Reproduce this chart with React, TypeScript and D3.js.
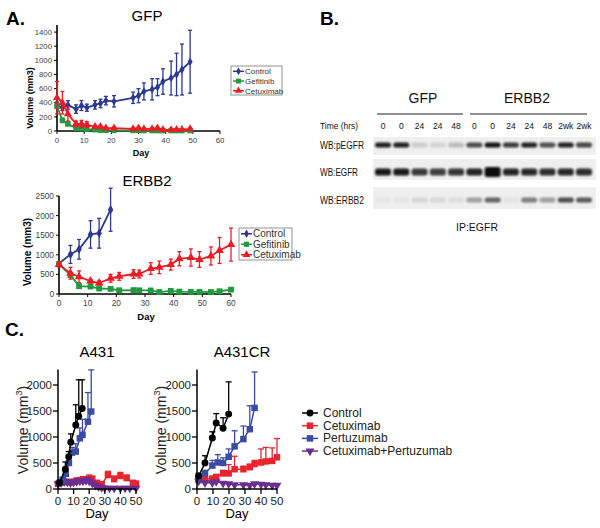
import React from 'react';
import * as d3 from 'd3';

const FONT = 'Liberation Sans, Arial, Helvetica, sans-serif';

// ---------- Panel A: GFP ----------
const gfpDays = [0, 2, 4, 7, 9, 11, 14, 16, 18, 21, 28, 30, 32, 35, 37, 39, 42, 44, 46, 49];
const gfpControl = [370, 330, 370, 310, 360, 330, 370, 390, 430, 420, 470, 500, 560, 590, 620, 700, 750, 800, 870, 980];
const gfpControlErr = [40, 40, 60, 60, 70, 50, 60, 60, 60, 80, 80, 100, 120, 150, 120, 180, 240, 300, 360, 445];
const gfpGefitinib = [350, 150, 100, 40, 35, 25, 18, 12, 10, 10, 8, 8, 6, 6, 6, 5, 5, 5, 5, 5];
const gfpGefitinibErr = [30, 30, 20, 15, 10, 10, 8, 6, 5, 5, 5, 5, 4, 4, 4, 4, 4, 4, 4, 4];
const gfpCetuximab = [470, 400, 240, 100, 100, 90, 60, 60, 40, 40, 30, 40, 30, 30, 40, 20, 15, 20, 20, 30];
const gfpCetuximabErr = [230, 160, 100, 40, 50, 40, 20, 20, 15, 15, 15, 15, 10, 15, 15, 10, 10, 10, 10, 15];
const gfpYTicks = [0, 200, 400, 600, 800, 1000, 1200, 1400];
const aXTicks = [0, 10, 20, 30, 40, 50, 60];

// ---------- Panel A: ERBB2 ----------
const erbbControlDays = [0, 4, 7, 11, 14, 18];
const erbbControl = [780, 1010, 1140, 1520, 1550, 2150];
const erbbControlErr = [0, 230, 250, 350, 380, 550];
const erbbDays = [0, 4, 7, 11, 14, 18, 21, 26, 28, 32, 35, 39, 42, 46, 49, 53, 56, 60];
const erbbGefitinib = [760, 480, 200, 190, 140, 130, 95, 100, 95, 90, 50, 80, 60, 55, 55, 50, 70, 110];
const erbbGefitinibErr = [30, 40, 20, 20, 15, 15, 10, 15, 10, 10, 10, 10, 10, 10, 10, 10, 15, 20];
const erbbCetuximab = [750, 530, 440, 330, 280, 400, 450, 510, 510, 650, 680, 750, 900, 930, 880, 970, 1110, 1260];
const erbbCetuximabErr = [60, 150, 150, 50, 50, 100, 100, 110, 100, 150, 160, 140, 180, 220, 200, 230, 330, 420];
const erbbYTicks = [0, 500, 1000, 1500, 2000, 2500];

// ---------- Panel B: blot ----------
const blotLanes = ['0', '0', '24', '24', '48', '0', '0', '24', '24', '48', '2wk', '2wk'];
const pEGFR = [0.92, 0.92, 0.15, 0.12, 0.22, 0.72, 0.97, 0.8, 0.9, 0.7, 0.9, 0.75];
const EGFR = [0.95, 0.95, 0.8, 0.78, 0.82, 0.9, 1.0, 0.9, 0.88, 0.85, 0.88, 0.85];
const ERBB2 = [0.03, 0.04, 0.12, 0.1, 0.08, 0.35, 0.62, 0.05, 0.5, 0.35, 0.72, 0.66];

// ---------- Panel C: A431 ----------
const a431CtrlDays = [1, 4.7, 6.9, 8.2, 11.4, 13.3, 15.5];
const a431Ctrl = [120, 380, 620, 900, 1230, 1400, 1550];
const a431CtrlErr = [30, 140, 100, 160, 390, 700, 550];
const a431PertDays = [1, 3, 5, 7, 9, 11.4, 14, 15.7, 19.2, 21.3];
const a431Pert = [120, 180, 290, 500, 700, 720, 975, 1040, 1295, 1490];
const a431PertErr = [20, 40, 60, 80, 100, 150, 200, 300, 560, 800];
const a431CetDays = [0, 2, 4, 6, 8, 10, 12, 14, 16, 18, 20, 22, 25, 28, 32, 36, 40, 44, 48, 50];
const a431Cet = [100, 120, 130, 140, 130, 140, 160, 170, 180, 170, 200, 190, 120, 90, 270, 190, 250, 210, 120, 100];
const a431CetErr = [30, 40, 40, 40, 40, 40, 50, 50, 60, 60, 70, 60, 40, 40, 70, 60, 70, 60, 40, 50];
const a431ComboDays = [0, 2, 4, 6, 8, 10, 12, 14, 16, 18, 20, 22, 24, 26, 28, 30, 33, 36, 40, 43, 46, 50];
const a431Combo = [100, 120, 140, 130, 120, 130, 140, 150, 150, 160, 150, 110, 70, 40, 25, 20, 15, 15, 15, 15, 15, 15];
const a431ComboErr = [30, 40, 50, 40, 40, 40, 50, 50, 50, 60, 60, 40, 20, 15, 10, 10, 10, 10, 10, 10, 10, 10];

// ---------- Panel C: A431CR ----------
const crCtrlDays = [1, 5, 9.6, 12, 16.3, 19.8];
const crCtrl = [250, 500, 980, 1270, 1170, 1440];
const crCtrlErr = [50, 140, 120, 180, 200, 620];
const crPertDays = [1, 5, 9.6, 13, 16.3, 19.8, 23.5, 29, 33, 36];
const crPert = [200, 300, 450, 510, 500, 620, 820, 960, 1150, 1560];
const crPertErr = [30, 60, 100, 150, 100, 150, 300, 250, 450, 690];
const crCetDays = [1, 5, 9.6, 12, 16.3, 19.8, 23.5, 29, 33, 36, 40, 43, 47, 50];
const crCet = [170, 190, 200, 230, 300, 300, 380, 380, 420, 480, 510, 530, 540, 610];
const crCetErr = [30, 30, 40, 50, 60, 170, 250, 60, 60, 70, 260, 270, 250, 360];
const crComboDays = [1, 5, 9.6, 12, 16.3, 19.8, 23.5, 29, 33, 36, 40, 43, 47, 50];
const crCombo = [150, 120, 120, 140, 110, 100, 80, 80, 70, 100, 90, 80, 70, 70];
const crComboErr = [20, 20, 20, 20, 20, 20, 10, 10, 10, 15, 15, 15, 15, 15];
const cYTicks = [0, 500, 1000, 1500, 2000];
const cXTicks = [0, 10, 20, 30, 40, 50];

const cLegend = ['Control', 'Cetuximab', 'Pertuzumab', 'Cetuximab+Pertuzumab'];

// colors
const A_BLUE = '#2b3990';
const A_GREEN = '#1f9a3e';
const A_RED = '#ec1c24';
const C_BLACK = '#000000';
const C_RED = '#e8242e';
const C_BLUE = '#3a4ba4';
const C_PURPLE = '#6b2d8f';

type Series = {
  name: string;
  color: string;
  shape: string;
  size: number;
  days: number[];
  vals: number[];
  errs: number[];
};

function symbolPath(shape: string, size: number) {
  const map: any = {
    diamond: d3.symbolDiamond,
    square: d3.symbolSquare,
    triangle: d3.symbolTriangle,
    triangleDown: d3.symbolTriangle,
    circle: d3.symbolCircle,
  };
  return d3.symbol().type(map[shape]).size(size)() as string;
}

function Marker({ shape, size, color, x, y }: any) {
  const rot = shape === 'triangleDown' ? ' rotate(180)' : '';
  return <path d={symbolPath(shape, size)} transform={`translate(${x},${y})${rot}`} fill={color} />;
}

function Plot({ x, y, series, errUp, lw, capW }: any) {
  return (
    <g>
      {series.map((s: Series, si: number) => {
        const line = d3
          .line<number>()
          .x((_, i) => x(s.days[i]))
          .y((v) => y(v));
        return (
          <g key={si}>
            {s.vals.map((v, i) => {
              const cx = x(s.days[i]);
              const top = y(v + s.errs[i]);
              const bot = errUp ? y(v) : y(Math.max(0, v - s.errs[i]));
              if (s.errs[i] <= 0) return null;
              return (
                <g key={i} stroke={s.color} strokeWidth={1.3}>
                  <line x1={cx} x2={cx} y1={top} y2={bot} />
                  <line x1={cx - capW} x2={cx + capW} y1={top} y2={top} />
                  {!errUp && <line x1={cx - capW} x2={cx + capW} y1={bot} y2={bot} />}
                </g>
              );
            })}
            <path d={line(s.vals) as string} fill="none" stroke={s.color} strokeWidth={lw} />
            {s.vals.map((v, i) => (
              <Marker key={i} shape={s.shape} size={s.size} color={s.color} x={x(s.days[i])} y={y(v)} />
            ))}
          </g>
        );
      })}
    </g>
  );
}

function AxesA({ x, y, xTicks, yTicks, fs }: any) {
  const [x0] = x.range();
  const [y0, y1] = y.range();
  const xr = x.range()[1];
  return (
    <g fontFamily={FONT} fontSize={fs} fill="#444">
      <line x1={x0} x2={x0} y1={y0} y2={y1} stroke="#000" strokeWidth={1.6} />
      <line x1={x0} x2={xr} y1={y0} y2={y0} stroke="#000" strokeWidth={1.6} />
      {yTicks.map((t: number) => (
        <g key={t}>
          <line x1={x0 - 3} x2={x0} y1={y(t)} y2={y(t)} stroke="#000" strokeWidth={1} />
          <text x={x0 - 5} y={y(t) + fs * 0.35} textAnchor="end">{t}</text>
        </g>
      ))}
      {xTicks.map((t: number) => (
        <g key={t}>
          <line x1={x(t)} x2={x(t)} y1={y0} y2={y0 + 3} stroke="#000" strokeWidth={1} />
          <text x={x(t)} y={y0 + 12} textAnchor="middle">{t}</text>
        </g>
      ))}
    </g>
  );
}

function AxesC({ x, y, xTicks, yTicks }: any) {
  const [x0, xr] = x.range();
  const [y0, y1] = y.range();
  return (
    <g fontFamily={FONT} fontSize={11.5} fill="#222">
      <line x1={x0} x2={x0} y1={y0 + 0.7} y2={y1} stroke="#000" strokeWidth={1.5} />
      <line x1={x0 - 0.7} x2={xr} y1={y0} y2={y0} stroke="#000" strokeWidth={1.5} />
      {yTicks.map((t: number) => (
        <g key={t}>
          <line x1={x0 - 5} x2={x0} y1={y(t)} y2={y(t)} stroke="#000" strokeWidth={1.3} />
          <text x={x0 - 6} y={y(t) + 4} textAnchor="end">{t}</text>
        </g>
      ))}
      {xTicks.map((t: number) => (
        <g key={t}>
          <line x1={x(t)} x2={x(t)} y1={y0} y2={y0 + 5} stroke="#000" strokeWidth={1.3} />
          <text x={x(t)} y={y0 + 16} textAnchor="middle">{t}</text>
        </g>
      ))}
    </g>
  );
}

function LegendA({ x, y, w, h, rowH, fs, series }: any) {
  return (
    <g fontFamily={FONT} fontSize={fs} fill="#333">
      <rect x={x} y={y} width={w} height={h} fill="#fff" stroke="#777" strokeWidth={0.8} />
      {series.map((s: Series, i: number) => {
        const cy = y + rowH * 0.55 + i * rowH;
        return (
          <g key={i}>
            <line x1={x + 2} x2={x + 13} y1={cy} y2={cy} stroke={s.color} strokeWidth={1.5} />
            <Marker shape={s.shape} size={s.size * 0.8} color={s.color} x={x + 7.5} y={cy} />
            <text x={x + 14} y={cy + fs * 0.35}>{s.name}</text>
          </g>
        );
      })}
    </g>
  );
}

function VolLabelC({ x, y }: any) {
  return (
    <text transform={`translate(${x},${y}) rotate(-90)`} textAnchor="middle" fontFamily={FONT} fontSize={14} fill="#222">
      Volume (mm<tspan fontSize={9} dy={-6}>3</tspan><tspan dy={6}>)</tspan>
    </text>
  );
}

export default function App() {
  // Panel A scales
  const xA1 = d3.scaleLinear().domain([0, 60]).range([57, 220]);
  const yA1 = d3.scaleLinear().domain([0, 1500]).range([131, 25]);
  const xA2 = d3.scaleLinear().domain([0, 60]).range([59, 231]);
  const yA2 = d3.scaleLinear().domain([0, 2500]).range([294, 196]);

  const gfpSeries: Series[] = [
    { name: 'Control', color: A_BLUE, shape: 'diamond', size: 22, days: gfpDays, vals: gfpControl, errs: gfpControlErr },
    { name: 'Gefitinib', color: A_GREEN, shape: 'square', size: 30, days: gfpDays, vals: gfpGefitinib, errs: gfpGefitinibErr },
    { name: 'Cetuximab', color: A_RED, shape: 'triangle', size: 28, days: gfpDays, vals: gfpCetuximab, errs: gfpCetuximabErr },
  ];
  const erbbSeries: Series[] = [
    { name: 'Control', color: A_BLUE, shape: 'diamond', size: 26, days: erbbControlDays, vals: erbbControl, errs: erbbControlErr },
    { name: 'Gefitinib', color: A_GREEN, shape: 'square', size: 34, days: erbbDays, vals: erbbGefitinib, errs: erbbGefitinibErr },
    { name: 'Cetuximab', color: A_RED, shape: 'triangle', size: 32, days: erbbDays, vals: erbbCetuximab, errs: erbbCetuximabErr },
  ];

  // Panel C scales
  const yC = d3.scaleLinear().domain([0, 2300]).range([489, 489 - 2300 * 0.052]);
  const xC1 = d3.scaleLinear().domain([0, 50]).range([58, 136]);
  const xC2 = d3.scaleLinear().domain([0, 50]).range([197, 277]);

  const mk = (days: number[], vals: number[], errs: number[], i: number): Series => {
    const colors = [C_BLACK, C_RED, C_BLUE, C_PURPLE];
    const shapes = ['circle', 'square', 'square', 'triangleDown'];
    const sizes = [38, 42, 42, 34];
    return { name: cLegend[i], color: colors[i], shape: shapes[i], size: sizes[i], days, vals, errs };
  };
  const a431Series = [
    mk(a431CetDays, a431Cet, a431CetErr, 1),
    mk(a431ComboDays, a431Combo, a431ComboErr, 3),
    mk(a431PertDays, a431Pert, a431PertErr, 2),
    mk(a431CtrlDays, a431Ctrl, a431CtrlErr, 0),
  ];
  const crSeries = [
    mk(crCetDays, crCet, crCetErr, 1),
    mk(crComboDays, crCombo, crComboErr, 3),
    mk(crPertDays, crPert, crPertErr, 2),
    mk(crCtrlDays, crCtrl, crCtrlErr, 0),
  ];
  const legendC = [0, 1, 2, 3].map((i) => mk([], [], [], i));

  // blot lanes
  const laneX = d3.scaleLinear().domain([0, 11]).range([383, 584]);
  const blotRows = [
    { label: 'WB:pEGFR', labelW: 44, vals: pEGFR, y: 145, h: 5, bgY: 137, bgH: 18 },
    { label: 'WB:EGFR', labelW: 38, vals: EGFR, y: 172, h: 7, bgY: 159, bgH: 21 },
    { label: 'WB:ERBB2', labelW: 44, vals: ERBB2, y: 200, h: 5, bgY: 187, bgH: 22 },
  ];

  return (
    <svg width={600} height={528} style={{ position: 'absolute', left: 0, top: 0, background: '#fff' }}>
      <defs>
        <filter id="blur" x="-20%" y="-60%" width="140%" height="220%">
          <feGaussianBlur stdDeviation="0.8" />
        </filter>
      </defs>
      <rect width={600} height={528} fill="#fff" />

      {/* Panel labels */}
      <g fontFamily={FONT} fontWeight="bold" fontSize={19} fill="#000">
        <text x={6} y={25}>A.</text>
        <text x={320} y={25}>B.</text>
        <text x={5} y={336}>C.</text>
      </g>

      {/* ---- Panel A GFP ---- */}
      <text x={147} y={21} textAnchor="middle" fontFamily={FONT} fontSize={15}>GFP</text>
      <AxesA x={xA1} y={yA1} xTicks={aXTicks} yTicks={gfpYTicks} fs={7.8} />
      <Plot x={xA1} y={yA1} series={gfpSeries} errUp={false} lw={1.8} capW={2} />
      <text transform="translate(33,98) rotate(-90)" textAnchor="middle" fontFamily={FONT} fontWeight="bold" fontSize={9}>Volume (mm3)</text>
      <text x={141} y={156} textAnchor="middle" fontFamily={FONT} fontWeight="bold" fontSize={9}>Day</text>
      <LegendA x={231} y={66} w={51} h={29} rowH={9.7} fs={8} series={gfpSeries} />

      {/* ---- Panel A ERBB2 ---- */}
      <text x={147} y={186} textAnchor="middle" fontFamily={FONT} fontSize={15}>ERBB2</text>
      <AxesA x={xA2} y={yA2} xTicks={aXTicks} yTicks={erbbYTicks} fs={8.3} />
      <Plot x={xA2} y={yA2} series={erbbSeries} errUp={false} lw={1.8} capW={2} />
      <text transform="translate(31,252) rotate(-90)" textAnchor="middle" fontFamily={FONT} fontWeight="bold" fontSize={10}>Volume (mm3)</text>
      <text x={146} y={320} textAnchor="middle" fontFamily={FONT} fontWeight="bold" fontSize={9.5}>Day</text>
      <LegendA x={239} y={228} w={53} h={32} rowH={10.5} fs={10} series={erbbSeries} />

      {/* ---- Panel B blot ---- */}
      <g fontFamily={FONT} fill="#111">
        <text x={423} y={103} textAnchor="middle" fontSize={14}>GFP</text>
        <text x={527} y={103} textAnchor="middle" fontSize={14}>ERBB2</text>
        <line x1={377} x2={463} y1={114} y2={114} stroke="#222" strokeWidth={1.2} />
        <line x1={470} x2={587} y1={114} y2={114} stroke="#222" strokeWidth={1.2} />
        <text x={320} y={129} fontSize={9} textLength={38} lengthAdjust="spacingAndGlyphs">Time (hrs)</text>
        {blotLanes.map((l, i) => (
          <text key={i} x={laneX(i)} y={129} textAnchor="middle" fontSize={8.5}>{l}</text>
        ))}
        {blotRows.map((r, ri) => (
          <g key={ri}>
            <rect x={373} y={r.bgY} width={223} height={r.bgH} fill="#efefef" />
            <text x={320} y={r.y + 4} fontSize={10.5} textLength={r.labelW} lengthAdjust="spacingAndGlyphs">{r.label}</text>
            {r.vals.map((v, i) => (
              <rect
                key={i}
                x={laneX(i) - 8}
                y={r.y - r.h / 2 - (ri === 1 && i === 6 ? 1.5 : 0)}
                width={16}
                height={r.h + (ri === 1 && i === 6 ? 3 : 0)}
                rx={2.5}
                fill="#0a0a0a"
                opacity={v}
                filter="url(#blur)"
              />
            ))}
          </g>
        ))}
        <text x={477} y={231} textAnchor="middle" fontSize={10.5}>IP:EGFR</text>
      </g>

      {/* ---- Panel C ---- */}
      <text x={97} y={357} textAnchor="middle" fontFamily={FONT} fontSize={15}>A431</text>
      <text x={242} y={357} textAnchor="middle" fontFamily={FONT} fontSize={15}>A431CR</text>
      <Plot x={xC1} y={yC} series={a431Series} errUp={true} lw={1.5} capW={3} />
      <Plot x={xC2} y={yC} series={crSeries} errUp={true} lw={1.5} capW={3} />
      <AxesC x={xC1} y={yC} xTicks={cXTicks} yTicks={cYTicks} />
      <AxesC x={xC2} y={yC} xTicks={cXTicks} yTicks={cYTicks} />
      <VolLabelC x={28} y={430} />
      <VolLabelC x={166} y={430} />
      <text x={97} y={518} textAnchor="middle" fontFamily={FONT} fontSize={13}>Day</text>
      <text x={237} y={518} textAnchor="middle" fontFamily={FONT} fontSize={13}>Day</text>
      <g fontFamily={FONT} fontSize={12} fill="#222">
        {legendC.map((s, i) => {
          const cy = 413 + i * 12.7;
          return (
            <g key={i}>
              <line x1={302} x2={318} y1={cy} y2={cy} stroke={s.color} strokeWidth={1.5} />
              <Marker shape={s.shape} size={s.size} color={s.color} x={310} y={cy} />
              <text x={323} y={cy + 4}>{s.name}</text>
            </g>
          );
        })}
      </g>
    </svg>
  );
}
